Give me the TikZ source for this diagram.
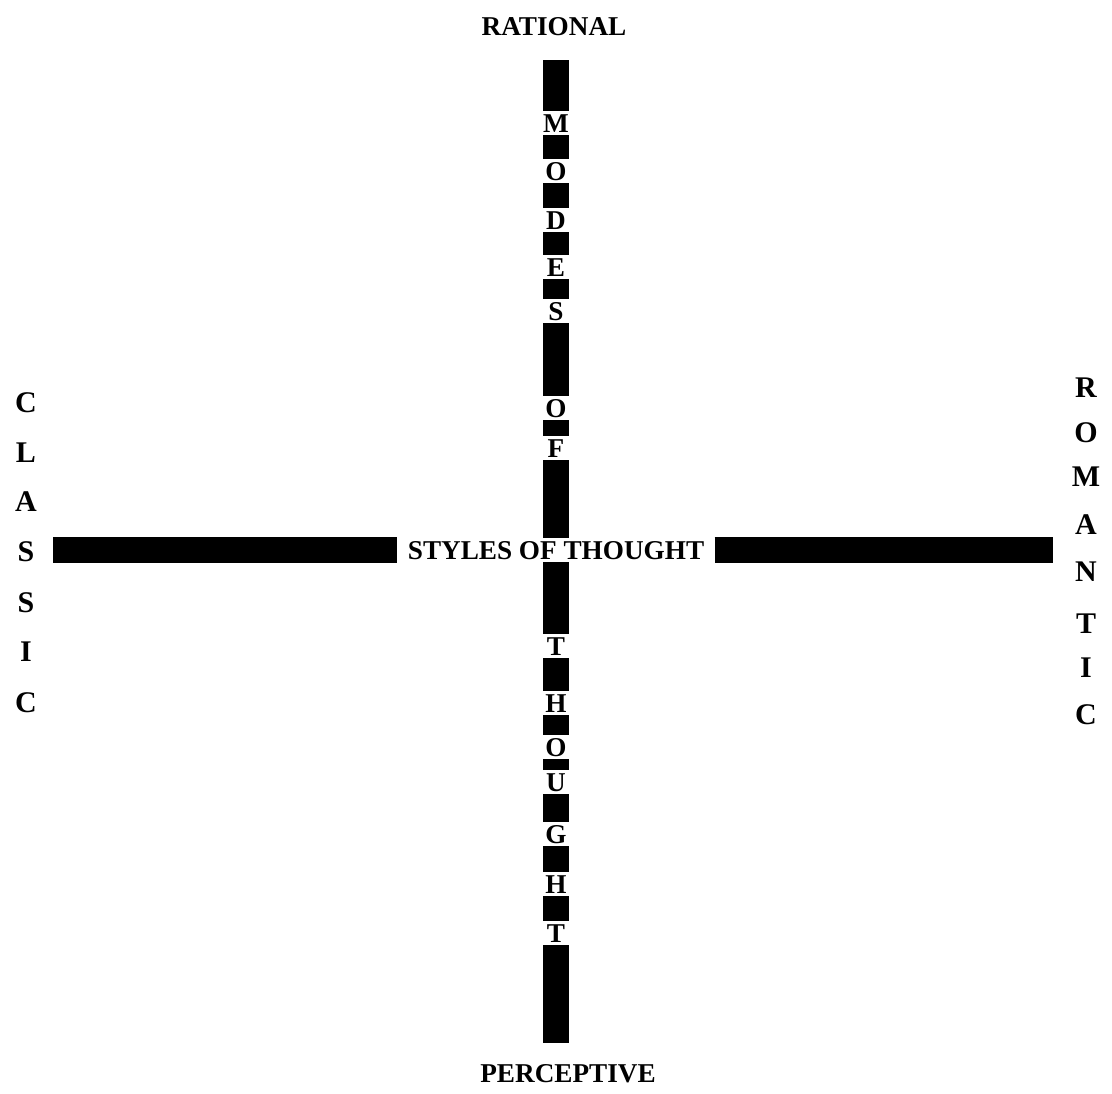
\documentclass[tikz,border=0pt]{standalone}
\usepackage{fontspec}
\setmainfont{Liberation Serif}
\begin{document}
\begin{tikzpicture}[
    x=0.5pt, y=-0.5pt,
    lbl/.style={font=\fontsize{13.6}{16}\selectfont\bfseries,inner sep=0pt},
    let/.style={font=\fontsize{13.6}{16}\selectfont\bfseries,inner xsep=0pt,inner ysep=1.5pt,text height=9pt,text depth=0pt},
    side/.style={font=\fontsize{15}{18}\selectfont\bfseries,inner sep=0pt},
    core/.style={font=\fontsize{13.6}{16}\selectfont\bfseries,inner xsep=5pt,inner ysep=1.5pt,text height=9pt,text depth=0pt},
    bar/.style={draw=black,line width=13pt}
]
    \useasboundingbox (0,0) rectangle (1112,1093);

    \node[lbl] (rat) at (554,27) {RATIONAL};
    \node[lbl] (per) at (568,1074) {PERCEPTIVE};

    \coordinate (vtop) at (556,60);
    \coordinate (vbot) at (556,1043);
    \coordinate (hl) at (53,550);
    \coordinate (hr) at (1053,550);

    \node[core] (sot) at (556,550) {STYLES OF THOUGHT};

    \node[let] (m1) at (556,123) {M};
    \node[let] (m2) at (556,171) {O};
    \node[let] (m3) at (556,220) {D};
    \node[let] (m4) at (556,267) {E};
    \node[let] (m5) at (556,311) {S};
    \node[let] (m6) at (556,408) {O};
    \node[let] (m7) at (556,448) {F};

    \node[let] (t1) at (556,646) {T};
    \node[let] (t2) at (556,703) {H};
    \node[let] (t3) at (556,747) {O};
    \node[let] (t4) at (556,782) {U};
    \node[let] (t5) at (556,834) {G};
    \node[let] (t6) at (556,884) {H};
    \node[let] (t7) at (556,933) {T};

    \draw[bar] (vtop) -- (m1);
    \draw[bar] (m1) -- (m2);
    \draw[bar] (m2) -- (m3);
    \draw[bar] (m3) -- (m4);
    \draw[bar] (m4) -- (m5);
    \draw[bar] (m5) -- (m6);
    \draw[bar] (m6) -- (m7);
    \draw[bar] (m7) -- (sot);
    \draw[bar] (sot) -- (t1);
    \draw[bar] (t1) -- (t2);
    \draw[bar] (t2) -- (t3);
    \draw[bar] (t3) -- (t4);
    \draw[bar] (t4) -- (t5);
    \draw[bar] (t5) -- (t6);
    \draw[bar] (t6) -- (t7);
    \draw[bar] (t7) -- (vbot);
    \draw[bar] (hl) -- (sot);
    \draw[bar] (sot) -- (hr);

    \node[side] (c1) at (26,403) {C};
    \node[side] (c2) at (26,453) {L};
    \node[side] (c3) at (26,502) {A};
    \node[side] (c4) at (26,552) {S};
    \node[side] (c5) at (26,603) {S};
    \node[side] (c6) at (26,652) {I};
    \node[side] (c7) at (26,703) {C};

    \node[side] (r1) at (1086,388) {R};
    \node[side] (r2) at (1086,433) {O};
    \node[side] (r3) at (1086,477) {M};
    \node[side] (r4) at (1086,525) {A};
    \node[side] (r5) at (1086,572) {N};
    \node[side] (r6) at (1086,624) {T};
    \node[side] (r7) at (1086,668) {I};
    \node[side] (r8) at (1086,715) {C};
\end{tikzpicture}
\end{document}
